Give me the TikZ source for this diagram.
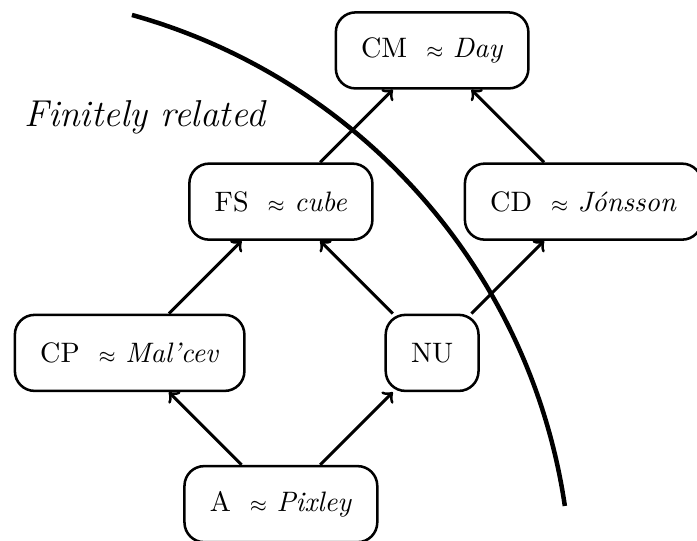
\documentclass[tikz,border=0pt]{standalone}
\usetikzlibrary{positioning}

\begin{document}
\begin{tikzpicture}[
  on grid,
  node distance=1.89cm and 1.89cm,
  cls/.style={draw=black, line width=0.9pt, rounded corners=7pt, align=center, minimum height=0.95cm, inner xsep=9pt},
  arrow/.style={->, line width=1.1pt},
  border/.style={line width=1.6pt}
]
  \useasboundingbox (0,0) rectangle (8.71,6.76);

  \node[cls] (A) at (3.51,0.46) {A~~$\scriptstyle\approx$ \textit{Pixley}};

  \node[cls, above left=of A] (CP) {CP~~$\scriptstyle\approx$ \textit{Mal'cev}};
  \node[cls, above right=of A] (NU) {NU};
  \node[cls, above right=of CP] (FS) {FS~~$\scriptstyle\approx$ \textit{cube}};
  \node[cls, above right=of FS] (CM) {CM~~$\scriptstyle\approx$ \textit{Day}};
  \node[cls, below right=of CM] (CD) {CD~~$\scriptstyle\approx$ \textit{J\'onsson}};

  \node[anchor=base west, font=\fontsize{13.3}{16}\selectfont] (fin) at (0.18,5.175) {\textit{Finitely related}};

  \draw[arrow] (A) -- (CP);
  \draw[arrow] (A) -- (NU);
  \draw[arrow] (CP) -- (FS);
  \draw[arrow] (NU) -- (FS);
  \draw[arrow] (NU) -- (CD);
  \draw[arrow] (FS) -- (CM);
  \draw[arrow] (CD) -- (CM);

  % boundary of the finitely related region
  \coordinate (top) at (1.649,6.573);
  \draw[border] (top) arc[start angle=74.4, end angle=8.4, radius=7.51];
\end{tikzpicture}
\end{document}
